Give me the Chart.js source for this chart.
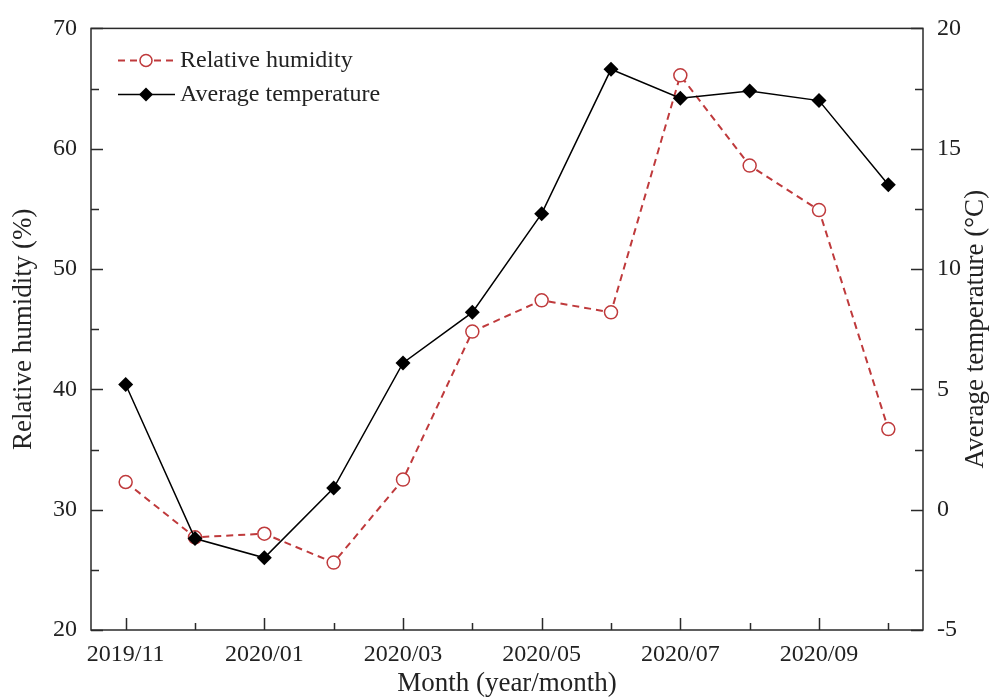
<!DOCTYPE html>
<html>
<head>
<meta charset="utf-8">
<script src="https://cdn.jsdelivr.net/npm/chart.js@4.4.1/dist/chart.umd.min.js"></script>
<style>
  html, body { margin: 0; padding: 0; background: #fff; }
  #wrap { width: 998px; height: 699px; }
</style>
</head>
<body>
<div id="wrap"><canvas id="chart" width="998" height="699"></canvas></div>
<script>
const MONTHS = ["2019/11","2019/12","2020/01","2020/02","2020/03","2020/04","2020/05","2020/06","2020/07","2020/08","2020/09","2020/10"];
const HUMIDITY = [32.3, 27.7, 28.0, 25.6, 32.5, 44.8, 47.4, 46.4, 66.1, 58.6, 54.9, 36.7];
const TEMPERATURE = [5.2, -1.2, -2.0, 0.9, 6.1, 8.2, 12.3, 18.3, 17.1, 17.4, 17.0, 13.5];
const HUM_RANGE = [20, 70, 10];   // min, max, step
const TEMP_RANGE = [-5, 20, 5];

const RED = "#bf3a3c";
const INK = "#222";
const SERIF = "'Liberation Serif', 'Times New Roman', serif";

// inward ticks, frame, legend and right title (reads bottom-to-top)
const decor = {
  id: "decor",
  afterDatasetsDraw(chart) {
    const ctx = chart.ctx;
    const a = chart.chartArea;
    const x = chart.scales.x, yL = chart.scales.yL, yR = chart.scales.yR;
    ctx.save();
    ctx.strokeStyle = "#2a2a2a";
    ctx.lineWidth = 1.5;
    ctx.beginPath();
    MONTHS.forEach((m, i) => {
      const px = Math.round(x.getPixelForValue(i)) + 0.5;
      const len = i % 2 === 0 ? 12 : 7;
      ctx.moveTo(px, a.bottom); ctx.lineTo(px, a.bottom - len);
    });
    for (let v = HUM_RANGE[0]; v <= HUM_RANGE[1]; v += HUM_RANGE[2] / 2) {
      const py = Math.round(yL.getPixelForValue(v)) + 0.5;
      const len = (v - HUM_RANGE[0]) % HUM_RANGE[2] === 0 ? 12 : 8;
      ctx.moveTo(a.left, py); ctx.lineTo(a.left + len, py);
    }
    for (let v = TEMP_RANGE[0]; v <= TEMP_RANGE[1]; v += TEMP_RANGE[2] / 2) {
      const py = Math.round(yR.getPixelForValue(v)) + 0.5;
      const len = (v - TEMP_RANGE[0]) % TEMP_RANGE[2] === 0 ? 12 : 8;
      ctx.moveTo(a.right, py); ctx.lineTo(a.right - len, py);
    }
    ctx.stroke();
    ctx.strokeRect(a.left, a.top, a.right - a.left, a.bottom - a.top);

    // legend
    const lx = a.left + 27, ly1 = a.top + 32, ly2 = a.top + 66;
    ctx.font = "24px " + SERIF;
    ctx.fillStyle = INK;
    ctx.textBaseline = "middle";
    ctx.textAlign = "left";
    ctx.strokeStyle = RED;
    ctx.lineWidth = 2;
    ctx.setLineDash([7, 5]);
    ctx.beginPath(); ctx.moveTo(lx, ly1); ctx.lineTo(lx + 57, ly1); ctx.stroke();
    ctx.setLineDash([]);
    ctx.beginPath(); ctx.arc(lx + 28, ly1, 6, 0, Math.PI * 2);
    ctx.fillStyle = "#fff"; ctx.fill(); ctx.lineWidth = 1.5; ctx.stroke();
    ctx.fillStyle = INK;
    ctx.fillText("Relative humidity", lx + 62, ly1);

    ctx.strokeStyle = "#000";
    ctx.lineWidth = 1.5;
    ctx.beginPath(); ctx.moveTo(lx, ly2); ctx.lineTo(lx + 57, ly2); ctx.stroke();
    ctx.fillStyle = "#000";
    ctx.beginPath();
    ctx.moveTo(lx + 28, ly2 - 7); ctx.lineTo(lx + 35, ly2);
    ctx.lineTo(lx + 28, ly2 + 7); ctx.lineTo(lx + 21, ly2); ctx.closePath();
    ctx.fill();
    ctx.fillStyle = INK;
    ctx.fillText("Average temperature", lx + 62, ly2);

    // right axis title
    ctx.translate(976, (a.top + a.bottom) / 2);
    ctx.rotate(-Math.PI / 2);
    ctx.textAlign = "center";
    ctx.font = "27px " + SERIF;
    ctx.fillText("Average temperature (\u00B0C)", 0, 0);
    ctx.restore();
  }
};

new Chart(document.getElementById("chart"), {
  type: "line",
  data: {
    labels: MONTHS,
    datasets: [
      {
        label: "Relative humidity",
        data: HUMIDITY,
        yAxisID: "yL",
        order: 1,
        borderColor: RED,
        borderWidth: 2,
        borderDash: [7, 5],
        tension: 0,
        pointStyle: "circle",
        pointRadius: 6.5,
        pointBorderWidth: 1.5,
        pointBackgroundColor: "#fff",
        pointBorderColor: RED
      },
      {
        label: "Average temperature",
        data: TEMPERATURE,
        yAxisID: "yR",
        order: 0,
        borderColor: "#000",
        borderWidth: 1.5,
        tension: 0,
        pointStyle: "rectRot",
        pointRadius: 7.5,
        pointBorderWidth: 0,
        pointBackgroundColor: "#000",
        pointBorderColor: "#000"
      }
    ]
  },
  options: {
    responsive: false,
    animation: false,
    devicePixelRatio: 1,
    layout: { padding: { top: 25, left: 0, right: 0, bottom: 0 } },
    plugins: { legend: { display: false }, tooltip: { enabled: false } },
    scales: {
      x: {
        type: "category",
        offset: true,
        grid: { display: false, drawTicks: false },
        border: { display: false },
        ticks: {
          autoSkip: false,
          maxRotation: 0,
          padding: 10,
          color: INK,
          font: { family: SERIF, size: 24 },
          callback: (v, i) => (i % 2 === 0 ? MONTHS[i] : "")
        },
        title: { display: true, text: "Month (year/month)", color: INK, font: { family: SERIF, size: 27 }, padding: { top: 0, bottom: -1 } },
        afterFit: (s) => { s.height = 69; }
      },
      yL: {
        position: "left",
        min: HUM_RANGE[0], max: HUM_RANGE[1],
        grid: { display: false, drawTicks: false },
        border: { display: false },
        ticks: { stepSize: HUM_RANGE[2], padding: 14, color: INK, font: { family: SERIF, size: 24 } },
        title: { display: true, text: "Relative humidity (%)", color: INK, font: { family: SERIF, size: 27 }, padding: { top: 8, bottom: 0 } },
        afterFit: (s) => { s.width = 91; }
      },
      yR: {
        position: "right",
        min: TEMP_RANGE[0], max: TEMP_RANGE[1],
        grid: { display: false, drawTicks: false },
        border: { display: false },
        ticks: { stepSize: TEMP_RANGE[2], padding: 14, color: INK, font: { family: SERIF, size: 24 } },
        afterFit: (s) => { s.width = 75; }
      }
    }
  },
  plugins: [decor]
});
</script>
</body>
</html>
